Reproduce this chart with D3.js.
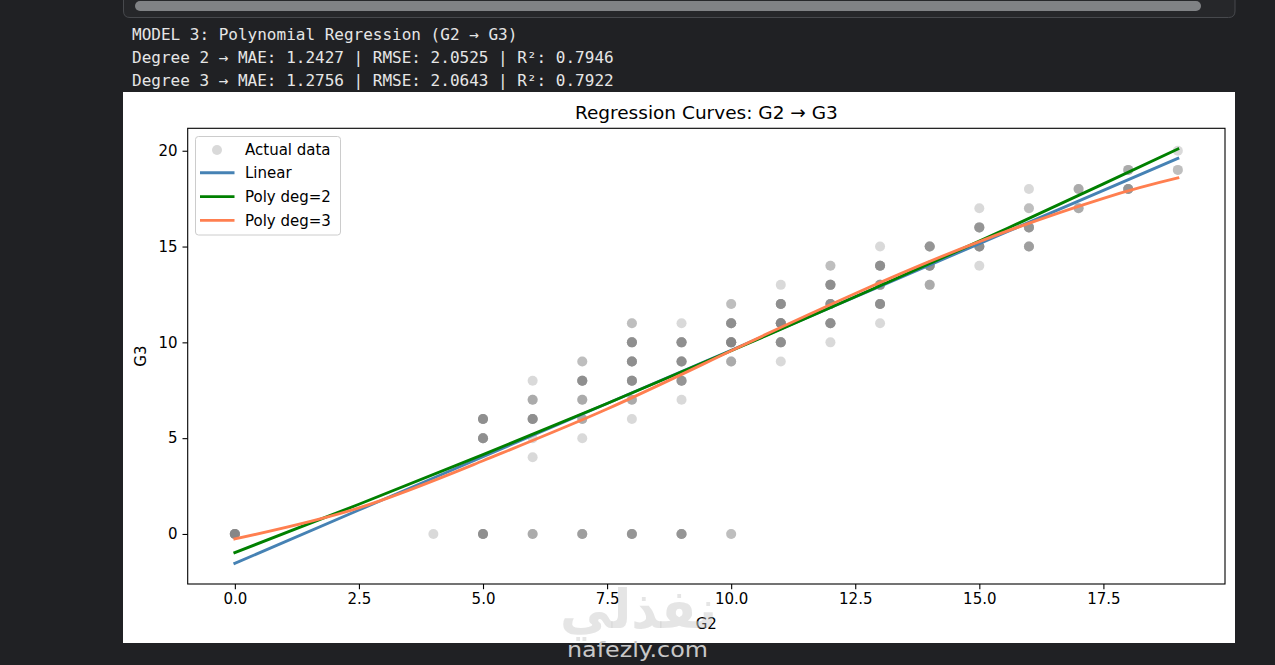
<!DOCTYPE html>
<html><head><meta charset="utf-8">
<script src="https://cdn.jsdelivr.net/npm/d3@7"></script>
<style>
html,body{margin:0;padding:0;background:#202124;overflow:hidden;}
svg{display:block;}
</style></head><body>
<svg id="c" width="1275" height="665"></svg>
<script>
// ---- text output above the figure ----
const outputLines = [
  "MODEL 3: Polynomial Regression (G2 → G3)",
  "Degree 2 → MAE: 1.2427 | RMSE: 2.0525 | R²: 0.7946",
  "Degree 3 → MAE: 1.2756 | RMSE: 2.0643 | R²: 0.7922"
];
const chartTitle = "Regression Curves: G2 → G3";
const xLabel = "G2";
const yLabel = "G3";
const legendLabels = ["Actual data", "Linear", "Poly deg=2", "Poly deg=3"];

// ---- scatter data (G2, G3, number of overlapping students) ----
const g2Vals = [0, 4, 5,5,5, 6,6,6,6,6,6, 7,7,7,7,7,7, 8,8,8,8,8,8,8,
  9,9,9,9,9,9, 10,10,10,10,10, 11,11,11,11,11, 12,12,12,12,12,
  13,13,13,13,13, 14,14,14, 15,15,15,15, 16,16,16,16, 17,17, 18,18, 19,19];
const g3Vals = [0, 0, 0,5,6, 0,4,5,6,7,8, 0,5,6,7,8,9, 0,6,7,8,9,10,11,
  0,7,8,9,10,11, 0,9,10,11,12, 9,10,11,12,13, 10,11,12,13,14,
  11,12,13,14,15, 13,14,15, 14,15,16,17, 15,16,17,18, 17,18, 18,19, 19,20];
const counts = [8, 1, 6,6,6, 3,1,1,6,3,1, 4,1,3,3,6,2, 5,1,3,6,6,6,2,
  5,1,5,6,6,1, 2,3,8,6,2, 1,6,8,6,1, 1,6,6,6,2,
  1,6,5,6,1, 3,6,5, 1,6,5,1, 4,5,2,1, 3,3, 5,3, 2,1];

// ---- regression curves ----
const curveX  = [0, 2.5, 5, 7.5, 10, 12.5, 15, 17.5, 19];
const linearY = [-1.53, 1.25, 4.03, 6.81, 9.59, 12.37, 15.15, 17.93, 19.60];
const poly2Y  = [-0.97, 1.55, 4.14, 6.81, 9.56, 12.38, 15.28, 18.27, 20.09];
const poly3Y  = [-0.26, 1.36, 3.82, 6.52, 9.56, 12.55, 15.26, 17.52, 18.58];

const xTicks = [0, 2.5, 5, 7.5, 10, 12.5, 15, 17.5];
const yTicks = [0, 5, 10, 15, 20];

const seriesColors = {scatter: "gray", linear: "steelblue", poly2: "green", poly3: "coral"};

// ---------------------------------------------------------------
const svg = d3.select("#c");

// notebook scroll bar area
svg.append("path")
  .attr("d", "M123.5,-2 L123.5,11 Q123.5,17.5 130,17.5 L1228.5,17.5 Q1235,17.5 1235,11 L1235,-2 Z")
  .attr("fill", "#26272a").attr("stroke", "#47494d").attr("stroke-width", 1);
svg.append("rect").attr("x", 135).attr("y", 1).attr("width", 1066).attr("height", 10)
  .attr("rx", 5).attr("fill", "#808285");

// console output
svg.selectAll("text.out").data(outputLines).enter().append("text")
  .attr("class", "out")
  .attr("x", 132).attr("y", (d, i) => 40 + i * 23.2)
  .attr("font-family", "DejaVu Sans Mono, monospace").attr("font-size", 16)
  .attr("fill", "#e6e6e6").attr("xml:space", "preserve").text(d => d);

// figure background
svg.append("rect").attr("x", 123).attr("y", 92).attr("width", 1112).attr("height", 551).attr("fill", "#ffffff");

// axes
const L = 187.7, R = 1225, T = 128.3, B = 584;
const allY = linearY.concat(poly2Y, poly3Y, g3Vals);
const yMin = d3.min(allY), yMax = d3.max(allY);
const xMin = d3.min(g2Vals.concat(curveX)), xMax = d3.max(g2Vals.concat(curveX));
const yPad = (yMax - yMin) * 0.05, xPad = (xMax - xMin) * 0.05;
const x = d3.scaleLinear().domain([xMin - xPad, xMax + xPad]).range([L, R]);
const y = d3.scaleLinear().domain([yMin - yPad, yMax + yPad]).range([B, T]);

const font = "DejaVu Sans, sans-serif";

// scatter points (each student drawn with alpha 0.3)
const pts = g2Vals.flatMap((g, i) => d3.range(counts[i]).map(() => ({g2: g, g3: g3Vals[i]})));
const plot = svg.append("g");
plot.selectAll("circle.pt").data(pts).enter().append("circle")
  .attr("class", "pt")
  .attr("cx", d => x(d.g2)).attr("cy", d => y(d.g3)).attr("r", 5)
  .attr("fill", seriesColors.scatter).attr("fill-opacity", 0.3);

// curves
const line = d3.line().x(d => x(d[0])).y(d => y(d[1])).curve(d3.curveNatural);
const curves = [
  {vals: linearY, color: seriesColors.linear},
  {vals: poly2Y, color: seriesColors.poly2},
  {vals: poly3Y, color: seriesColors.poly3}
];
plot.selectAll("path.curve").data(curves).enter().append("path")
  .attr("class", "curve")
  .attr("d", c => line(curveX.map((xv, i) => [xv, c.vals[i]])))
  .attr("fill", "none").attr("stroke", c => c.color).attr("stroke-width", 2.9)
  .attr("stroke-linecap", "square");

// spines
svg.append("rect").attr("x", L).attr("y", T).attr("width", R - L).attr("height", B - T)
  .attr("fill", "none").attr("stroke", "#000").attr("stroke-width", 1.1);

// x axis
const xAxis = d3.axisBottom(x).tickValues(xTicks).tickSize(5.2).tickPadding(4.5)
  .tickFormat(d3.format(".1f"));
const gx = svg.append("g").attr("transform", `translate(0,${B})`).call(xAxis);
gx.select(".domain").remove();
gx.selectAll("line").attr("stroke", "#000").attr("stroke-width", 1.1);
gx.selectAll("text").attr("font-family", font).attr("font-size", 15).attr("fill", "#000");

// y axis
const yAxis = d3.axisLeft(y).tickValues(yTicks).tickSize(5.2).tickPadding(5)
  .tickFormat(d3.format("d"));
const gy = svg.append("g").attr("transform", `translate(${L},0)`).call(yAxis);
gy.select(".domain").remove();
gy.selectAll("line").attr("stroke", "#000").attr("stroke-width", 1.1);
gy.selectAll("text").attr("font-family", font).attr("font-size", 15).attr("fill", "#000");

// title and axis labels
svg.append("text").attr("x", (L + R) / 2).attr("y", 119).attr("text-anchor", "middle")
  .attr("font-family", font).attr("font-size", 18.5).attr("fill", "#000").text(chartTitle);
svg.append("text").attr("x", (L + R) / 2).attr("y", 628.5).attr("text-anchor", "middle")
  .attr("font-family", font).attr("font-size", 15).attr("fill", "#000").text(xLabel);
svg.append("text").attr("transform", `translate(146,${(T + B) / 2}) rotate(-90)`)
  .attr("text-anchor", "middle")
  .attr("font-family", font).attr("font-size", 15).attr("fill", "#000").text(yLabel);

// legend
const lg = svg.append("g");
lg.append("rect").attr("x", 195.5).attr("y", 136.5).attr("width", 145).attr("height", 98.5)
  .attr("rx", 3).attr("fill", "#fff").attr("fill-opacity", 0.8)
  .attr("stroke", "#cccccc").attr("stroke-width", 1);
const legendKinds = ["scatter", "linear", "poly2", "poly3"];
legendLabels.forEach((lab, i) => {
  const cy = 149 + i * 23.8;
  if (legendKinds[i] === "scatter") {
    lg.append("circle").attr("cx", 217).attr("cy", cy + 1).attr("r", 5)
      .attr("fill", seriesColors.scatter).attr("fill-opacity", 0.3);
  } else {
    lg.append("line").attr("x1", 200).attr("x2", 234.5).attr("y1", cy).attr("y2", cy)
      .attr("stroke", seriesColors[legendKinds[i]]).attr("stroke-width", 2.9);
  }
  lg.append("text").attr("x", 245).attr("y", cy + 5.5)
    .attr("font-family", font).attr("font-size", 15).attr("fill", "#000").text(lab);
});

// watermark
svg.append("text").attr("x", 560).attr("y", 628)
  .attr("font-family", "DejaVu Sans, sans-serif").attr("font-weight", "bold")
  .attr("font-size", 54).attr("fill", "#bdbdbd").attr("fill-opacity", 0.4)
  .attr("textLength", 157).attr("lengthAdjust", "spacingAndGlyphs")
  .text("نفذلي");
svg.append("text").attr("x", 567).attr("y", 657)
  .attr("font-family", "DejaVu Sans, sans-serif")
  .attr("font-size", 22).attr("fill", "#c8c8c8")
  .attr("textLength", 141).attr("lengthAdjust", "spacingAndGlyphs")
  .text("nafezly.com");
</script>
</body></html>
